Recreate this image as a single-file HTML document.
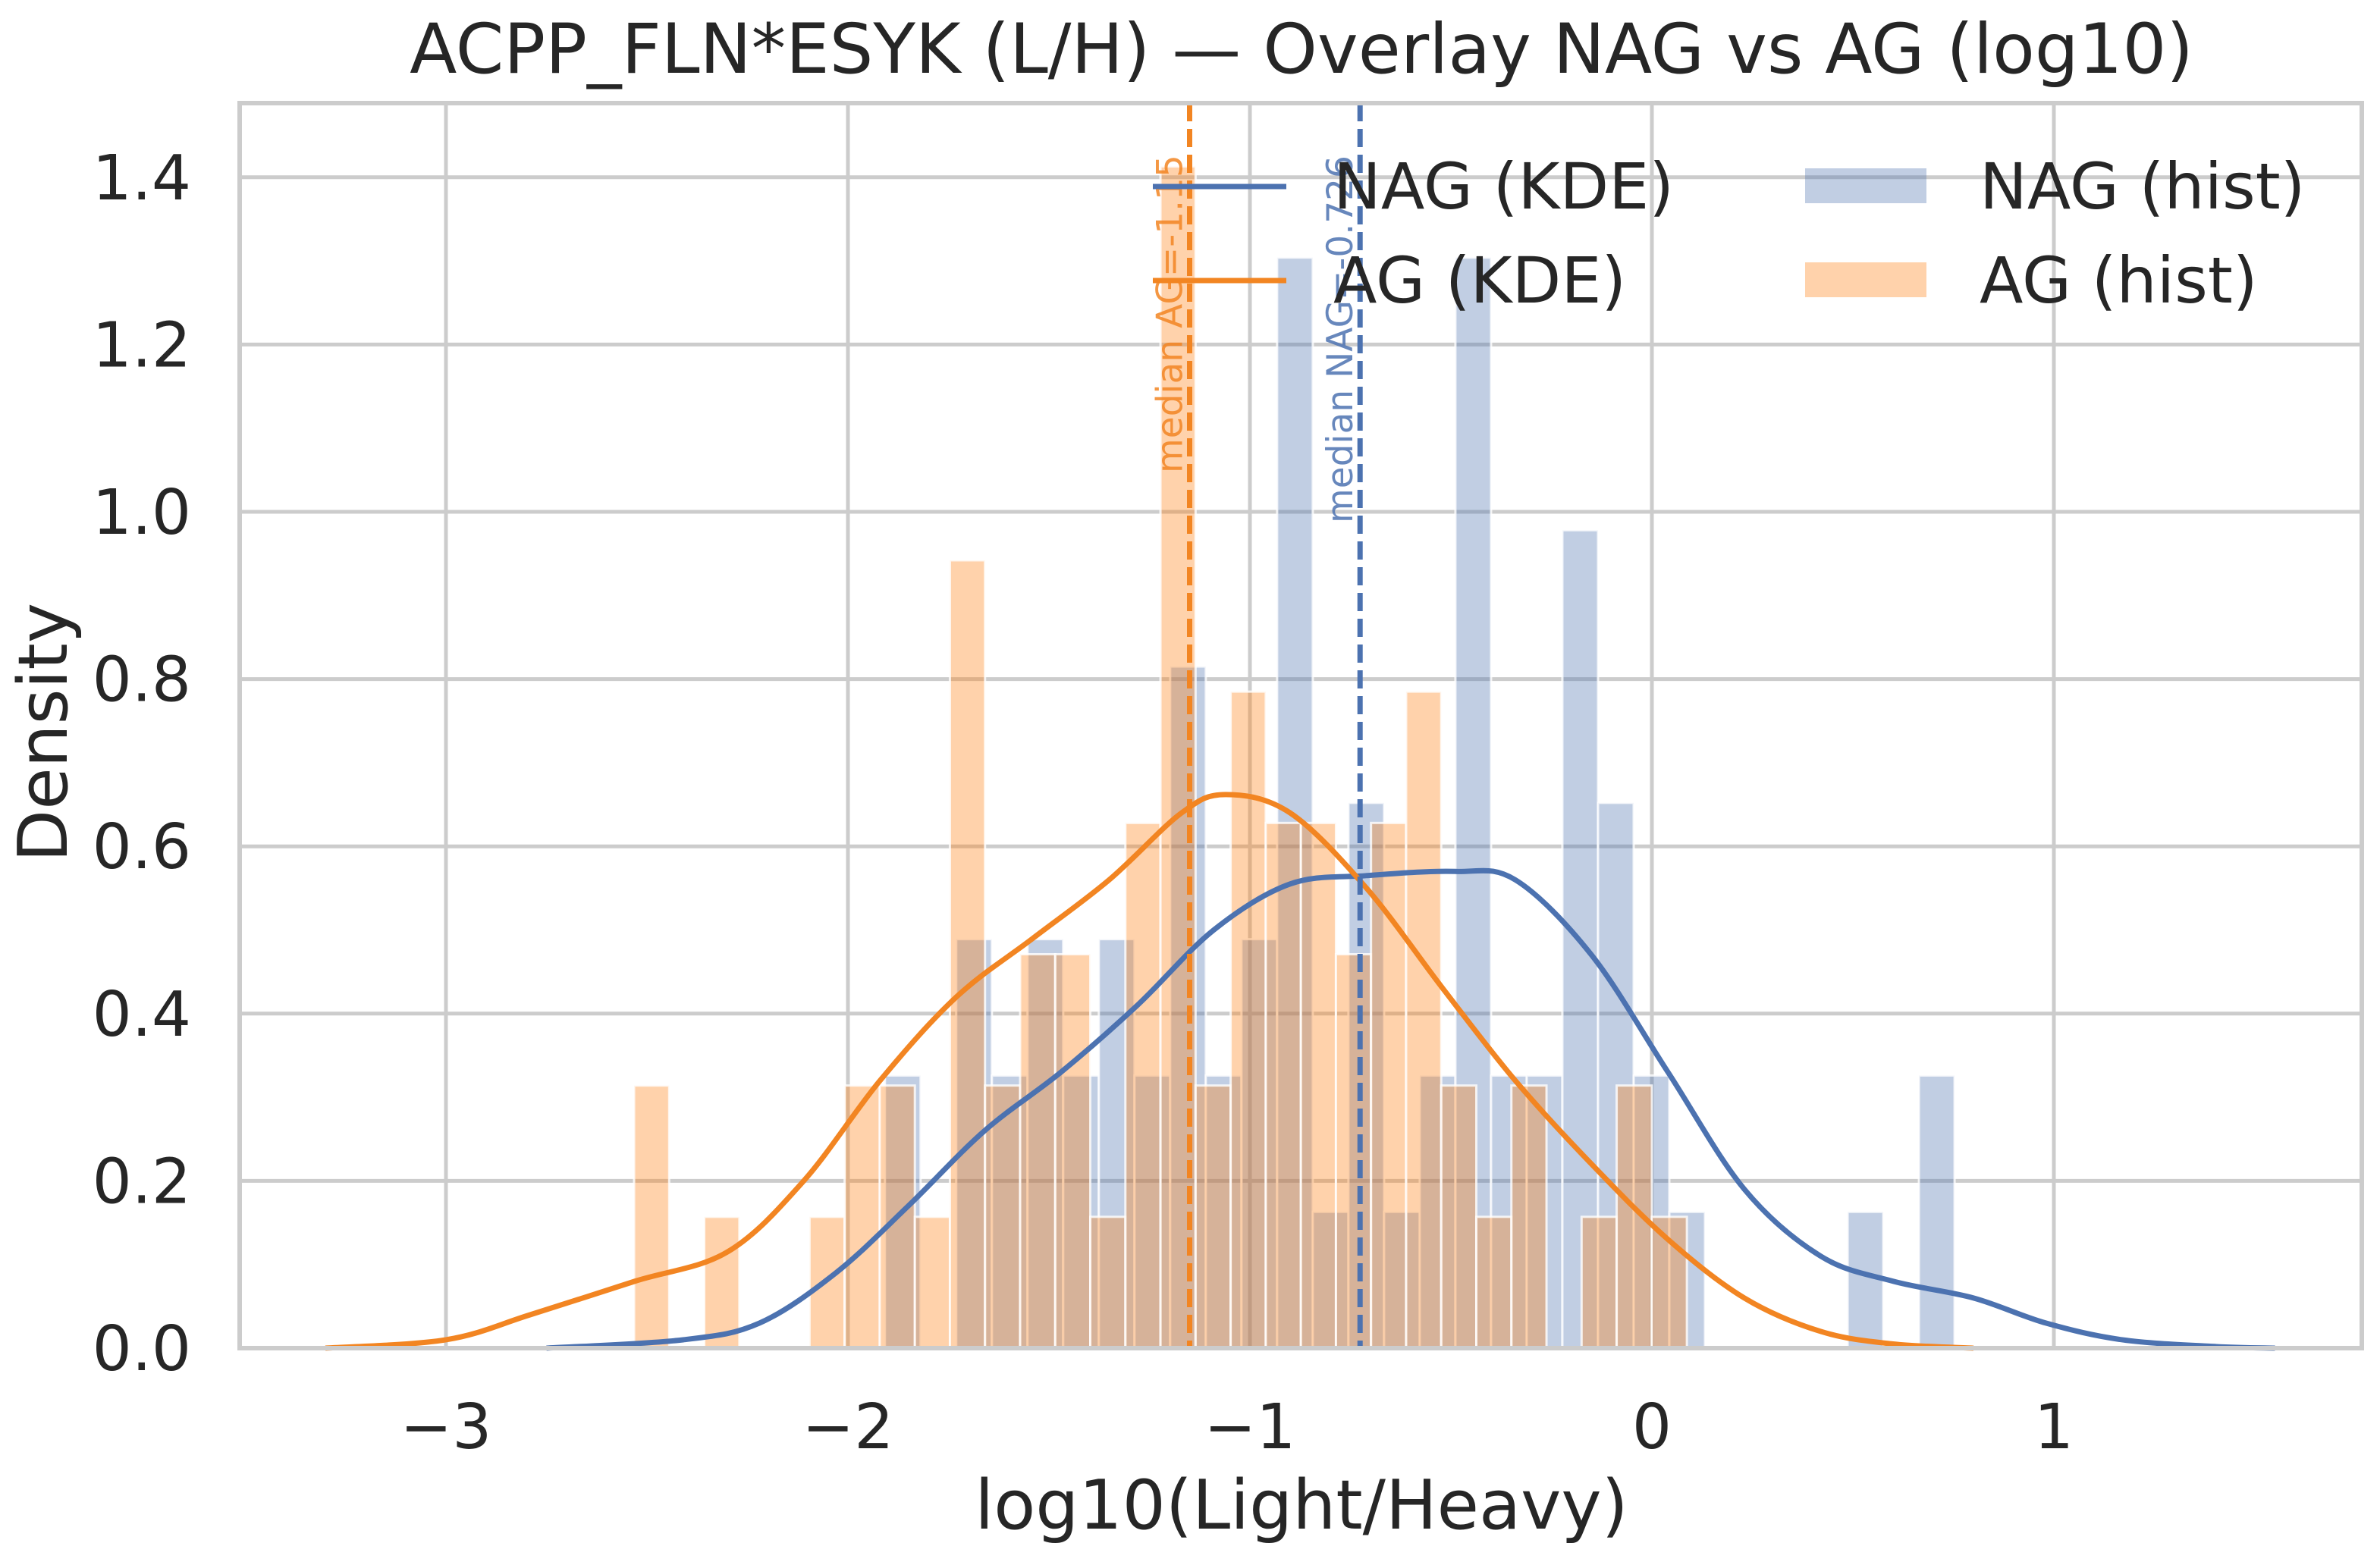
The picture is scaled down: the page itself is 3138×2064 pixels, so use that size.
<!DOCTYPE html>
<html><head><meta charset="utf-8"><style>
html,body{margin:0;padding:0;background:#fff;}
svg{display:block;font-family:"DejaVu Sans","Liberation Sans",sans-serif;}
</style></head><body>
<svg id="chart" width="3138" height="2064" viewBox="0 0 3138 2064" xmlns="http://www.w3.org/2000/svg">
<rect x="0" y="0" width="3138" height="2064" fill="#fff"/>
<g id="grid"></g>
<g id="bars"></g>
<g id="lines"></g>
<rect x="316" y="136" width="2798" height="1642" fill="none" stroke="#cccccc" stroke-width="6"/>
<g id="axes"></g>
<text x="1716" y="96" font-size="91" fill="#262626" text-anchor="middle">ACPP_FLN*ESYK (L/H) — Overlay NAG vs AG (log10)</text>
<text x="1716" y="2016" font-size="90" fill="#262626" text-anchor="middle">log10(Light/Heavy)</text>
<text x="0" y="0" font-size="90" fill="#262626" text-anchor="middle" transform="translate(88,966) rotate(-90)">Density</text>
<g id="legend">
  <line x1="1520" y1="246" x2="1696" y2="246" stroke="#4c72b0" stroke-width="7"/>
  <text x="1758" y="275" font-size="84" fill="#262626">NAG (KDE)</text>
  <line x1="1520" y1="370" x2="1696" y2="370" stroke="#f28522" stroke-width="7"/>
  <text x="1758" y="399" font-size="84" fill="#262626">AG (KDE)</text>
  <rect x="2380" y="222" width="160" height="46" fill="#4c72b0" fill-opacity="0.35"/>
  <text x="2610" y="275" font-size="84" fill="#262626">NAG (hist)</text>
  <rect x="2380" y="346" width="160" height="46" fill="#ff7f0e" fill-opacity="0.35"/>
  <text x="2610" y="399" font-size="84" fill="#262626">AG (hist)</text>
</g>
</svg>
<script>
const xTicks = [-3, -2, -1, 0, 1];
const xTickLabels = ["\u22123", "\u22122", "\u22121", "0", "1"];
const yTicks = [0, 0.2, 0.4, 0.6, 0.8, 1.0, 1.2, 1.4];
const yTickLabels = ["0.0", "0.2", "0.4", "0.6", "0.8", "1.0", "1.2", "1.4"];
const nagBinStart = -1.908;
const nagBinWidth = 0.0887;
const nagUnit = 0.163;
const nagCounts = [2,0,3,2,3,2,3,2,5,2,3,8,1,4,1,2,8,2,2,6,4,2,1,0,0,0,0,1,0,2];
const agBinStart = -2.532;
const agBinWidth = 0.0873;
const agUnit = 0.157;
const agCounts = [2,0,1,0,0,1,2,2,1,6,2,3,3,1,4,9,2,5,4,4,3,4,5,2,1,2,0,1,2,1];
const agKdeX = [-3.3,-3.0,-2.79,-2.53,-2.3,-2.11,-1.92,-1.73,-1.54,-1.35,-1.17,-1.06,-0.9,-0.71,-0.52,-0.34,-0.15,0.04,0.23,0.42,0.6,0.8];
const agKdeY = [0,0.01,0.04,0.08,0.115,0.2,0.32,0.42,0.49,0.56,0.64,0.662,0.64,0.55,0.43,0.32,0.22,0.13,0.06,0.02,0.005,0];
const nagKdeX = [-2.75,-2.41,-2.22,-2.03,-1.85,-1.66,-1.47,-1.28,-1.09,-0.9,-0.71,-0.49,-0.34,-0.15,0.04,0.23,0.42,0.6,0.8,0.98,1.17,1.4,1.55];
const nagKdeY = [0,0.01,0.03,0.09,0.17,0.26,0.33,0.41,0.5,0.555,0.565,0.57,0.56,0.47,0.33,0.19,0.11,0.08,0.06,0.03,0.01,0.002,0];
const medianAG = -1.15;
const medianNAG = -0.726;

const NS = "http://www.w3.org/2000/svg";
const X0 = 316, X1 = 3114, Y0 = 136, Y1 = 1778;
function xs(v){ return 2178 + v * 530; }
function ys(v){ return 1778 - v * 1103; }
function mk(tag, attrs, parent){ const e = document.createElementNS(NS, tag); for (const k in attrs) e.setAttribute(k, attrs[k]); parent.appendChild(e); return e; }

const grid = document.getElementById('grid');
const axes = document.getElementById('axes');
xTicks.forEach((t, i) => {
  const l = mk('line', {x1: xs(t), x2: xs(t), y1: Y0, y2: Y1, stroke: '#cccccc', 'stroke-width': 5}, grid);
  
  
  const tx = mk('text', {x: xs(t), y: 1910, 'font-size': 82, fill: '#262626', 'text-anchor': 'middle'}, axes);
  tx.textContent = xTickLabels[i];
  
  
});
yTicks.forEach((t, i) => {
  const l = mk('line', {x1: X0, x2: X1, y1: ys(t), y2: ys(t), stroke: '#cccccc', 'stroke-width': 5}, grid);
  
  
  const tx = mk('text', {x: 252, y: ys(t) + 29, 'font-size': 82, fill: '#262626', 'text-anchor': 'end'}, axes);
  tx.textContent = yTickLabels[i];
  
  
});

const bars = document.getElementById('bars');
nagCounts.forEach((c, k) => {
  if (!c) return;
  const a = nagBinStart + k * nagBinWidth;
  const r = mk('rect', {x: xs(a), y: ys(c * nagUnit), width: xs(a + nagBinWidth) - xs(a), height: ys(0) - ys(c * nagUnit), fill: '#4c72b0', 'fill-opacity': 0.35, stroke: '#ffffff', 'stroke-width': 3, 'stroke-opacity': 0.8}, bars);
  
  
});
agCounts.forEach((c, k) => {
  if (!c) return;
  const a = agBinStart + k * agBinWidth;
  const r = mk('rect', {x: xs(a), y: ys(c * agUnit), width: xs(a + agBinWidth) - xs(a), height: ys(0) - ys(c * agUnit), fill: '#ff7f0e', 'fill-opacity': 0.35, stroke: '#ffffff', 'stroke-width': 3, 'stroke-opacity': 0.8}, bars);
  
  
});

function smooth(xsArr, ysArr){
  const p = xsArr.map((v, i) => [xs(v), ys(ysArr[i])]);
  let d = 'M' + p[0][0] + ',' + p[0][1];
  for (let i = 0; i < p.length - 1; i++){
    const p0 = p[Math.max(0, i - 1)], p1 = p[i], p2 = p[i + 1], p3 = p[Math.min(p.length - 1, i + 2)];
    const c1 = [p1[0] + (p2[0] - p0[0]) / 6, p1[1] + (p2[1] - p0[1]) / 6];
    const c2 = [p2[0] - (p3[0] - p1[0]) / 6, p2[1] - (p3[1] - p1[1]) / 6];
    d += ' C' + c1[0] + ',' + c1[1] + ' ' + c2[0] + ',' + c2[1] + ' ' + p2[0] + ',' + p2[1];
  }
  return d;
}
const lines = document.getElementById('lines');
const nk = mk('path', {d: smooth(nagKdeX, nagKdeY), fill: 'none', stroke: '#4c72b0', 'stroke-width': 7}, lines);


const ak = mk('path', {d: smooth(agKdeX, agKdeY), fill: 'none', stroke: '#f28522', 'stroke-width': 7}, lines);



const ma = mk('line', {x1: xs(medianAG), x2: xs(medianAG), y1: Y0, y2: Y1, stroke: '#f28522', 'stroke-width': 7, 'stroke-dasharray': '24 10'}, lines);


const mn = mk('line', {x1: xs(medianNAG), x2: xs(medianNAG), y1: Y0, y2: Y1, stroke: '#4c72b0', 'stroke-width': 7, 'stroke-dasharray': '24 10'}, lines);


const ta = mk('text', {x: 0, y: 0, 'font-size': 47, fill: '#f28522', 'fill-opacity': 0.85, transform: 'translate(' + (xs(medianAG) - 10) + ',624) rotate(-90)'}, lines);
ta.textContent = 'median AG=-1.15';


const tn = mk('text', {x: 0, y: 0, 'font-size': 47, fill: '#4c72b0', 'fill-opacity': 0.85, transform: 'translate(' + (xs(medianNAG) - 10) + ',690) rotate(-90)'}, lines);
tn.textContent = 'median NAG=-0.726';


</script>
</body></html>
